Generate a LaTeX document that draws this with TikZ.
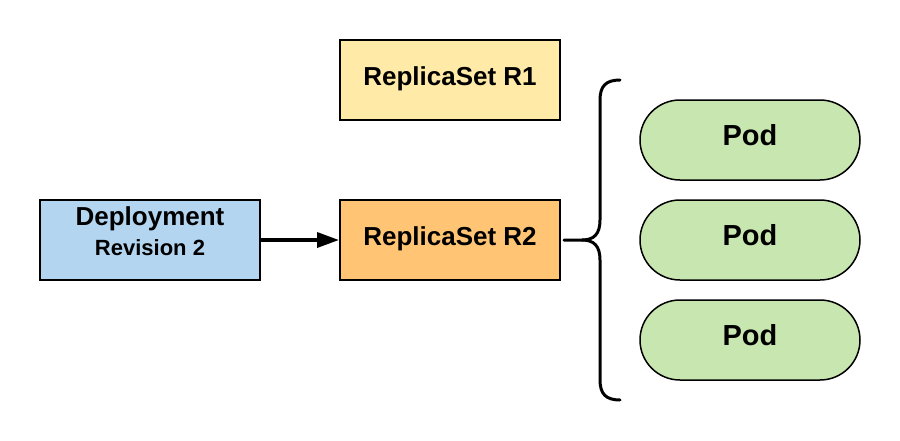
\documentclass[tikz,border=0pt]{standalone}
\usepackage{fontspec}
\setmainfont{Liberation Sans}
\usetikzlibrary{arrows.meta}
\definecolor{depblue}{HTML}{B3D5F0}
\definecolor{rsone}{HTML}{FFEAA7}
\definecolor{rstwo}{HTML}{FFC574}
\definecolor{podgreen}{HTML}{C8E6AF}
\begin{document}
\begin{tikzpicture}[x=1pt,y=-1pt,
  box/.style={draw=black, line width=2pt, minimum width=220pt, minimum height=80pt, inner sep=0pt,
    text height=10pt, text depth=0pt, font=\bfseries\fontsize{26}{30}\selectfont},
  pod/.style={draw=black, line width=1.5pt, fill=podgreen, minimum width=220pt, minimum height=80pt,
    rounded corners=40pt, inner sep=0pt, text height=10pt, text depth=0pt,
    font=\bfseries\fontsize{29}{34}\selectfont},
  conn/.style={line width=3.5pt, -{Triangle[length=22pt,width=15pt]}},
  brace/.style={line width=3pt, line cap=round}]
\useasboundingbox (0,0) rectangle (900,440);
\node[box, fill=depblue] (dep) at (150,240) {};
\node[font=\bfseries\fontsize{26}{30}\selectfont, anchor=base, inner sep=0pt] (deptitle) at (150,225) {Deployment};
\node[font=\bfseries\fontsize{22}{26}\selectfont, anchor=base, inner sep=0pt] (deprev) at (150,255) {Revision 2};
\node[box, fill=rsone] (r1) at (450,80) {ReplicaSet R1};
\node[box, fill=rstwo] (r2) at (450,240) {ReplicaSet R2};
\node[pod] (p1) at (750,140) {Pod};
\node[pod] (p2) at (750,240) {Pod};
\node[pod] (p3) at (750,340) {Pod};
\draw[conn] (dep.east) -- (r2.west);
\coordinate (btip) at (564,240);
\coordinate (btop) at (620,80);
\coordinate (bbot) at (620,400);
\draw[brace] (btop) .. controls (606,80) and (600,86) .. (600,100) -- (600,220)
  .. controls (600,234) and (594,240) .. (582,240) -- (btip);
\draw[brace] (bbot) .. controls (606,400) and (600,394) .. (600,380) -- (600,260)
  .. controls (600,246) and (594,240) .. (582,240);
\end{tikzpicture}
\end{document}
